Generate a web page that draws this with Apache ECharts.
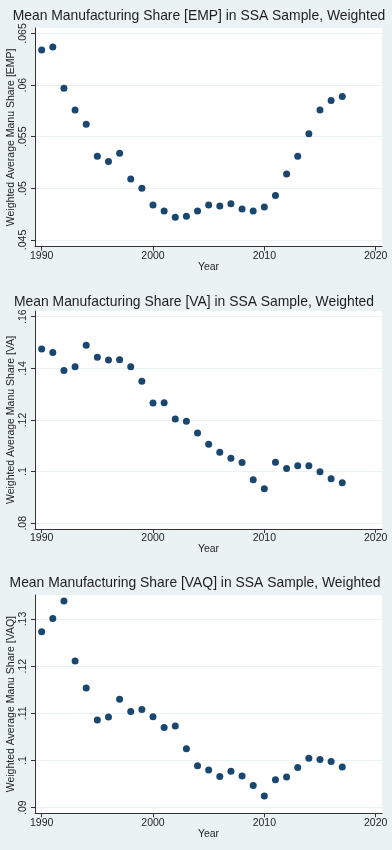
<!DOCTYPE html>
<html><head><meta charset="utf-8">
<script src="https://cdn.jsdelivr.net/npm/echarts@6/dist/echarts.min.js"></script>
<style>html,body{margin:0;padding:0;background:#eaf2f3;}#c{width:392px;height:850px;}</style>
</head><body><div id="c"></div>
<script>
const years = [1990,1991,1992,1993,1994,1995,1996,1997,1998,1999,2000,2001,2002,2003,2004,2005,2006,2007,2008,2009,2010,2011,2012,2013,2014,2015,2016,2017];
const empShare = [0.0634,0.0637,0.0597,0.0576,0.0562,0.0531,0.0526,0.0534,0.0509,0.0500,0.0484,0.0478,0.0472,0.0473,0.0478,0.0484,0.0483,0.0485,0.0480,0.0478,0.0482,0.0493,0.0514,0.0531,0.0553,0.0576,0.0585,0.0589];
const vaShare = [0.1475,0.1461,0.1392,0.1406,0.1489,0.1443,0.1432,0.1433,0.1406,0.1350,0.1266,0.1267,0.1204,0.1195,0.1150,0.1106,0.1075,0.1052,0.1035,0.0969,0.0934,0.1036,0.1012,0.1023,0.1023,0.1000,0.0973,0.0957];
const vaqShare = [0.1273,0.1301,0.1338,0.1211,0.1154,0.1086,0.1092,0.1130,0.1104,0.1108,0.1093,0.1070,0.1073,0.1025,0.0989,0.0980,0.0966,0.0977,0.0967,0.0947,0.0925,0.0959,0.0965,0.0985,0.1005,0.1002,0.0998,0.0986];
const xTicks = [1990,2000,2010,2020];
const empTicks = [0.045,0.05,0.055,0.06,0.065];
const empTickLabels = ['.045','.05','.055','.06','.065'];
const vaTicks = [0.08,0.10,0.12,0.14,0.16];
const vaTickLabels = ['.08','.1','.12','.14','.16'];
const vaqTicks = [0.09,0.10,0.11,0.12,0.13];
const vaqTickLabels = ['.09','.1','.11','.12','.13'];
const titles = ['Mean Manufacturing Share [EMP] in SSA Sample, Weighted','Mean Manufacturing Share [VA] in SSA Sample, Weighted','Mean Manufacturing Share [VAQ] in SSA Sample, Weighted'];
const yNames = ['Weighted Average Manu Share [EMP]','Weighted Average Manu Share [VA]','Weighted Average Manu Share [VAQ]'];

const FONT = '"Liberation Sans", Arial, sans-serif';
const TXT = '#1e1e1e';
const panels = [
  {vals: empShare, ticks: empTicks, labels: empTickLabels, top: 28, bottom: 246.7, ymin: 0.04435, ymax: 0.06553, titleY: 11, titleX: 194},
  {vals: vaShare, ticks: vaTicks, labels: vaTickLabels, top: 311, bottom: 529, ymin: 0.0778, ymax: 0.1622, titleY: 296.7, titleX: 189},
  {vals: vaqShare, ticks: vaqTicks, labels: vaqTickLabels, top: 595, bottom: 813.3, ymin: 0.08881, ymax: 0.13509, titleY: 578.3, titleX: 190}
];

const option = {animation:false, backgroundColor:'#eaf2f3', title:[], grid:[], xAxis:[], yAxis:[], series:[]};
panels.forEach((p,i)=>{
  option.title.push({text: titles[i], left: p.titleX, top: p.titleY, textAlign:'center', textVerticalAlign:'middle',
    textStyle:{fontFamily:FONT, fontSize:13.9, fontWeight:'normal', color:TXT}});
  option.grid.push({left:35, width:347, top:p.top, height:p.bottom-p.top, show:true, backgroundColor:'#ffffff', borderWidth:0,
    containLabel:false, outerBoundsMode:'none'});
  option.xAxis.push({type:'value', gridIndex:i, min:1989.4, max:2020.57, name:'Year', nameLocation:'middle', nameGap:15, nameMoveOverlap:false,
    nameTextStyle:{fontFamily:FONT, fontSize:10.5, color:TXT},
    axisLine:{show:true, lineStyle:{color:'#333', width:1}},
    axisTick:{show:true, length:4, customValues:xTicks, lineStyle:{color:'#333'}},
    axisLabel:{customValues:xTicks, margin:4, fontFamily:FONT, fontSize:10.5, color:TXT, formatter:(v)=>String(Math.round(v))},
    splitLine:{show:false}});
  option.yAxis.push({type:'value', gridIndex:i, min:p.ymin, max:p.ymax, name:yNames[i], nameLocation:'middle', nameRotate:90, nameGap:18, nameMoveOverlap:false,
    nameTextStyle:{fontFamily:FONT, fontSize:10.5, color:TXT},
    axisLine:{show:true, lineStyle:{color:'#333', width:1}},
    axisTick:{show:true, length:4, customValues:p.ticks, lineStyle:{color:'#333'}},
    axisLabel:{customValues:p.ticks, rotate:90, align:'center', verticalAlign:'bottom', margin:6, fontFamily:FONT, fontSize:10.5, color:TXT,
      formatter:(v)=>{const k=p.ticks.findIndex(t=>Math.abs(t-v)<1e-9); return k>=0?p.labels[k]:'';}},
    splitLine:{show:true, customValues:p.ticks, lineStyle:{color:'#eaf2f3', width:1}}});
  option.series.push({type:'scatter', xAxisIndex:i, yAxisIndex:i, symbol:'circle', symbolSize:7,
    itemStyle:{color:'#1a476f', opacity:1}, data: years.map((y,j)=>[y, p.vals[j]])});
});
const chart = echarts.init(document.getElementById('c'), null, {renderer:'canvas'});
chart.setOption(option);
</script></body></html>
